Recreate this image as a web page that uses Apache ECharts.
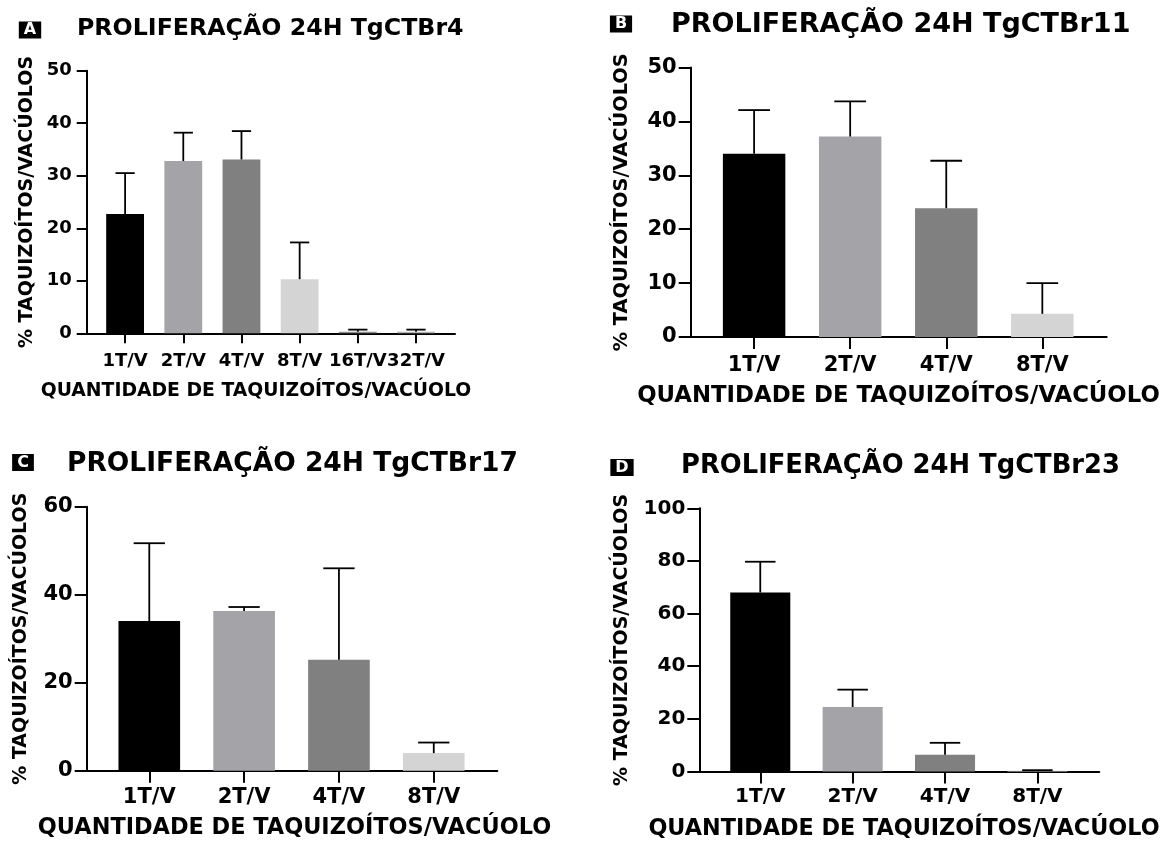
<!DOCTYPE html>
<html>
<head>
<meta charset="utf-8">
<script src="https://cdn.jsdelivr.net/npm/echarts@6/dist/echarts.min.js"></script>
<style>html,body{margin:0;padding:0;background:#fff}#c{width:1173px;height:841px}</style>
</head>
<body>
<div id="c"></div>
<script>
// ---- data ----
const catsA = ['1T/V', '2T/V', '4T/V', '8T/V', '16T/V', '32T/V'];
const meanA = [22.7, 32.8, 33.1, 10.3, 0.3, 0.3];
const sdA   = [7.8, 5.4, 5.4, 7.0, 0.4, 0.4];

const catsB = ['1T/V', '2T/V', '4T/V', '8T/V'];
const meanB = [34.0, 37.2, 23.9, 4.3];
const sdB   = [8.1, 6.5, 8.8, 5.7];

const catsC = ['1T/V', '2T/V', '4T/V', '8T/V'];
const meanC = [34.0, 36.3, 25.2, 4.0];
const sdC   = [17.7, 0.9, 20.8, 2.4];

const catsD = ['1T/V', '2T/V', '4T/V', '8T/V'];
const meanD = [68.0, 24.5, 6.4, 0.3];
const sdD   = [11.7, 6.6, 4.5, 0.2];

const yTicksA = {min: 0, max: 50, interval: 10};
const yTicksB = {min: 0, max: 50, interval: 10};
const yTicksC = {min: 0, max: 60, interval: 20};
const yTicksD = {min: 0, max: 100, interval: 20};

const titles = ['PROLIFERAÇÃO 24H TgCTBr4', 'PROLIFERAÇÃO 24H TgCTBr11', 'PROLIFERAÇÃO 24H TgCTBr17', 'PROLIFERAÇÃO 24H TgCTBr23'];
const letters = ['A', 'B', 'C', 'D'];
const yName = '% TAQUIZOÍTOS/VACÚOLOS';
const xName = 'QUANTIDADE DE TAQUIZOÍTOS/VACÚOLO';

const barColors = ['#000000', '#a3a3a8', '#808080', '#d4d4d4', '#8c8c8c', '#b4b4b4'];

// ---- layout ----
const FONT = '"DejaVu Sans", "Liberation Sans", Arial, sans-serif';
const panels = [
  {cats: catsA, mean: meanA, sd: sdA, y: yTicksA,
   grid: {left: 86.7, top: 70.7, width: 368.3, height: 262.6},
   tick: 10, lab: 18, xMargin: 19, yMargin: 15, nameGap: 50, nameSize: 19},
  {cats: catsB, mean: meanB, sd: sdB, y: yTicksB,
   grid: {left: 690.7, top: 67.5, width: 416, height: 269.5},
   tick: 12, lab: 21, xMargin: 18, yMargin: 14, nameGap: 59, nameSize: 19.4},
  {cats: catsC, mean: meanC, sd: sdC, y: yTicksC,
   grid: {left: 86.7, top: 506.7, width: 410.6, height: 264},
   tick: 12, lab: 21, xMargin: 16, yMargin: 14, nameGap: 56, nameSize: 19},
  {cats: catsD, mean: meanD, sd: sdD, y: yTicksD,
   grid: {left: 699.3, top: 508.3, width: 400, height: 263.2},
   tick: 12, lab: 20, xMargin: 15.5, yMargin: 14, nameGap: 68, nameSize: 19}
];

const grid = [], xAxis = [], yAxis = [], series = [];
panels.forEach((p, k) => {
  grid.push(Object.assign({containLabel: false}, p.grid));
  const idx = p.cats.map((c, i) => i);
  xAxis.push({
    gridIndex: k, type: 'value', min: -0.66, max: p.cats.length - 1 + 0.67,
    axisLine: {show: true, onZero: false, lineStyle: {color: '#000', width: 2}},
    axisTick: {show: true, customValues: idx, length: p.tick, lineStyle: {color: '#000', width: 2}},
    axisLabel: {show: true, customValues: idx, margin: p.xMargin, color: '#000',
      fontWeight: 'bold', fontSize: p.lab, fontFamily: FONT,
      formatter: v => p.cats[Math.round(v)]},
    splitLine: {show: false}
  });
  yAxis.push({
    gridIndex: k, type: 'value', min: p.y.min, max: p.y.max, interval: p.y.interval,
    name: yName, nameLocation: 'middle', nameGap: p.nameGap,
    nameTextStyle: {color: '#000', fontWeight: 'bold', fontSize: p.nameSize, fontFamily: FONT},
    axisLine: {show: true, onZero: false, lineStyle: {color: '#000', width: 2}},
    axisTick: {show: true, length: p.tick, lineStyle: {color: '#000', width: 2}},
    axisLabel: {margin: p.yMargin, color: '#000', fontWeight: 'bold', fontSize: p.lab, fontFamily: FONT},
    splitLine: {show: false}
  });
  series.push({
    type: 'custom', xAxisIndex: k, yAxisIndex: k,
    data: p.mean.map((m, i) => [i, m, p.sd[i]]),
    renderItem: (params, api) => {
      const i = api.value(0), m = api.value(1), s = api.value(2);
      const base = api.coord([i, 0]);
      const top = api.coord([i, m]);
      const errTop = api.coord([i, m + s]);
      const w = api.size([0.65, 0])[0];
      const cw = api.size([0.33, 0])[0];
      return {type: 'group', children: [
        {type: 'rect', shape: {x: base[0] - w / 2, y: top[1], width: w, height: base[1] - top[1]},
         style: {fill: barColors[params.dataIndex]}},
        {type: 'line', shape: {x1: top[0], y1: top[1], x2: top[0], y2: errTop[1]},
         style: {stroke: '#000', lineWidth: 1.8}},
        {type: 'line', shape: {x1: top[0] - cw / 2, y1: errTop[1], x2: top[0] + cw / 2, y2: errTop[1]},
         style: {stroke: '#000', lineWidth: 1.8}}
      ]};
    }
  });
});

// titles, panel letters and x-axis names (text)
const titlePos = [
  {x: 77, y: 28.5, size: 23.7}, {x: 671, y: 25, size: 27},
  {x: 67, y: 464, size: 26.5}, {x: 681, y: 466.5, size: 25.8}
];
const letterPos = [{x: 30, y: 30}, {x: 621, y: 24}, {x: 23, y: 462.5}, {x: 622, y: 467.5}];
const xNamePos = [
  {x: 256, y: 391, size: 18.8}, {x: 898.5, y: 396.5, size: 22.8},
  {x: 294.5, y: 828.5, size: 22.4}, {x: 904, y: 829, size: 22.3}
];
const graphic = [];
titles.forEach((t, k) => {
  graphic.push({type: 'text', x: titlePos[k].x, y: titlePos[k].y,
    style: {text: t, font: 'bold ' + titlePos[k].size + 'px ' + FONT, fill: '#000',
      textAlign: 'left', textVerticalAlign: 'middle'}});
  graphic.push({type: 'text', x: letterPos[k].x, y: letterPos[k].y,
    style: {text: letters[k], font: 'bold 16px ' + FONT, fill: '#fff', backgroundColor: '#000',
      padding: [1, 5, 0, 5], textAlign: 'center', textVerticalAlign: 'middle'}});
  graphic.push({type: 'text', x: xNamePos[k].x, y: xNamePos[k].y,
    style: {text: xName, font: 'bold ' + xNamePos[k].size + 'px ' + FONT, fill: '#000',
      textAlign: 'center', textVerticalAlign: 'middle'}});
});

const chart = echarts.init(document.getElementById('c'), null, {renderer: 'canvas'});
chart.setOption({
  backgroundColor: '#fff', animation: false,
  grid, xAxis, yAxis, series, graphic
});
</script>
</body>
</html>
